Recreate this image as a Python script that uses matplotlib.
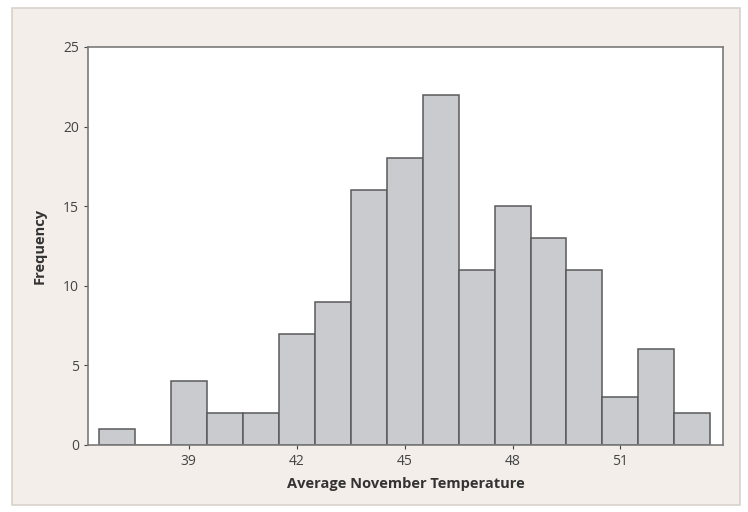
import matplotlib
matplotlib.use("Agg")
import matplotlib.pyplot as plt
from matplotlib.patches import Rectangle

# Histogram data (bin centres, counts)
bin_centers = [37, 38, 39, 40, 41, 42, 43, 44, 45, 46, 47, 48, 49, 50, 51, 52, 53]
counts = [1, 0, 4, 2, 2, 7, 9, 16, 18, 22, 11, 15, 13, 11, 3, 6, 2]
x_ticks = [39, 42, 45, 48, 51]
y_ticks = [0, 5, 10, 15, 20, 25]

plt.rcParams['font.family'] = ['Open Sans', 'DejaVu Sans']

fig = plt.figure(figsize=(7.48, 5.12), dpi=100)
fig.patch.set_facecolor('white')

# Minitab-style outer panel, drawn behind the axes
panel = Rectangle((12 / 748, 1 - 505 / 512), (740 - 12) / 748, (505 - 8) / 512,
                  transform=fig.transFigure, facecolor='#f3eee9',
                  edgecolor='#d9d2cb', linewidth=1.2, zorder=-10)
fig.patches.append(panel)

ax = fig.add_axes([88 / 748, 1 - 445 / 512, (723 - 88) / 748, (445 - 47) / 512])
ax.set_zorder(5)
ax.set_facecolor('white')

ax.bar(bin_centers, counts, width=1.0, color='#c9cbcf', edgecolor='#5a5a5a',
       linewidth=1.1, zorder=2)

ax.set_xlim(36.2, 53.85)
ax.set_ylim(0, 25)
ax.set_xticks(x_ticks)
ax.set_yticks(y_ticks)
ax.tick_params(axis='both', labelsize=10, colors='#444444', length=3, width=0.8)

for side in ax.spines.values():
    side.set_color('#7a7a7a')
    side.set_linewidth(1.2)

ax.set_xlabel('Average November Temperature', fontsize=10.5, fontweight='bold',
              color='#333333', labelpad=6)
ax.set_ylabel('Frequency', fontsize=10.5, fontweight='bold', color='#333333',
              labelpad=12)

fig.savefig('out.png', dpi=100, facecolor=fig.get_facecolor())
